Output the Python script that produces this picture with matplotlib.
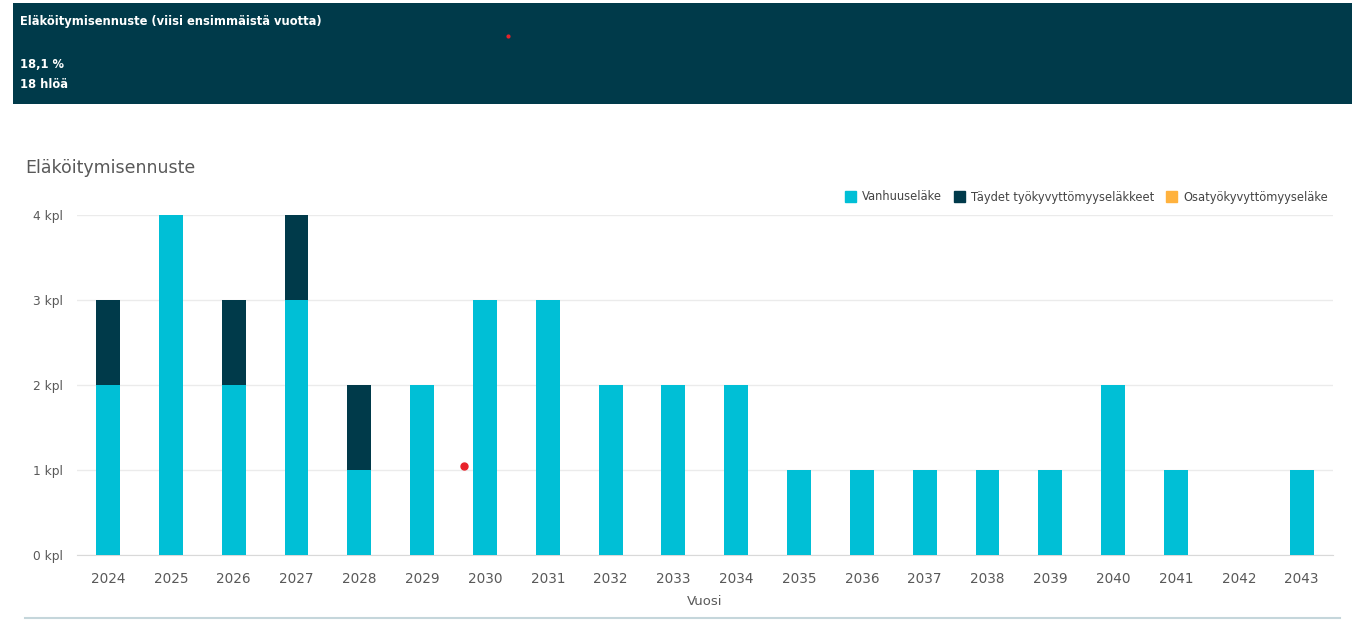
import matplotlib.pyplot as plt
from matplotlib.patches import Rectangle, Patch
import numpy as np

# Daten
vuodet = [str(v) for v in range(2024, 2044)]
vanhuuselake = [2, 4, 2, 3, 1, 2, 3, 3, 2, 2, 2, 1, 1, 1, 1, 1, 2, 1, 0, 1]
taydet_tyokyvyttomyys = [1, 0, 1, 1, 1, 0, 0, 0, 0, 0, 0, 0, 0, 0, 0, 0, 0, 0, 0, 0]
osatyokyvyttomyys = [0] * 20
sarjat = ["Vanhuuseläke", "Täydet työkyvyttömyyseläkkeet", "Osatyökyvyttömyyseläke"]
y_ticks = [0, 1, 2, 3, 4]
y_labels = [f"{t} kpl" for t in y_ticks]

otsikko_laatikko = "Eläköitymisennuste (viisi ensimmäistä vuotta)"
osuus = "18,1 %"
henkilot = "18 hlöä"

VARI_VANHUUS = "#00bfd6"
VARI_TAYDET = "#003a4a"
VARI_OSA = "#ffb23e"
HARMAA = "#595959"

W, H = 1357, 620
fig = plt.figure(figsize=(W / 100, H / 100), dpi=100)
fig.patch.set_facecolor("white")

# Kopfbereich
fig.patches.append(Rectangle((13 / W, 1 - 104 / H), (1352 - 13) / W, 101 / H,
                             transform=fig.transFigure, facecolor=VARI_TAYDET,
                             edgecolor="none", zorder=0))
for teksti, y in [(otsikko_laatikko, 22), (osuus, 65), (henkilot, 85)]:
    fig.text(20 / W, 1 - y / H, teksti, color="white", fontsize=8.3,
             fontweight="bold", va="center", ha="left")
fig.lines.append(plt.Line2D([508 / W], [1 - 36 / H], marker="o", markersize=2,
                            color="#e8222a", transform=fig.transFigure))

# Diagramm
ax = fig.add_axes([76.6 / W, 1 - 555 / H, (1333 - 76.6) / W, (555 - 215) / H])
x = np.arange(len(vuodet))
leveys = 0.38
ax.bar(x, vanhuuselake, leveys, color=VARI_VANHUUS, zorder=3)
ax.bar(x, taydet_tyokyvyttomyys, leveys, bottom=vanhuuselake, color=VARI_TAYDET, zorder=3)
pohja = np.array(vanhuuselake) + np.array(taydet_tyokyvyttomyys)
ax.bar(x, osatyokyvyttomyys, leveys, bottom=pohja, color=VARI_OSA, zorder=3)

ax.set_xlim(-0.5, len(vuodet) - 0.5)
ax.set_ylim(0, 4)
ax.set_xticks(x)
ax.set_xticklabels(vuodet, fontsize=9.8, color=HARMAA)
ax.set_yticks(y_ticks)
ax.set_yticklabels(y_labels, fontsize=8.8, color=HARMAA)
ax.tick_params(axis="both", length=0)
ax.tick_params(axis="x", pad=12)
ax.tick_params(axis="y", pad=10)
ax.grid(axis="y", color="#ebebeb", linewidth=1, zorder=0)
for s in ["top", "right", "left"]:
    ax.spines[s].set_visible(False)
ax.spines["bottom"].set_color("#d9d9d9")
ax.set_xlabel("Vuosi", fontsize=9.5, color=HARMAA, labelpad=7)

fig.text(25 / W, 1 - 168 / H, "Eläköitymisennuste", fontsize=12.5, color=HARMAA,
         va="center", ha="left")

kahvat = [Patch(color=VARI_VANHUUS), Patch(color=VARI_TAYDET), Patch(color=VARI_OSA)]
fig.legend(kahvat, sarjat, loc="center right", bbox_to_anchor=(1338 / W, 1 - 197 / H),
           ncol=3, frameon=False, fontsize=8.3, handlelength=1.0, handleheight=1.0,
           handletextpad=0.5, columnspacing=1.0, labelcolor="#444444")

fig.lines.append(plt.Line2D([464 / W], [1 - 466 / H], marker="o", markersize=5,
                            color="#e8222a", transform=fig.transFigure, zorder=5))
fig.lines.append(plt.Line2D([25 / W, 1340 / W], [1 - 618 / H, 1 - 618 / H],
                            color="#c5d6db", linewidth=1.5, transform=fig.transFigure))

fig.savefig("out.png", dpi=100)
